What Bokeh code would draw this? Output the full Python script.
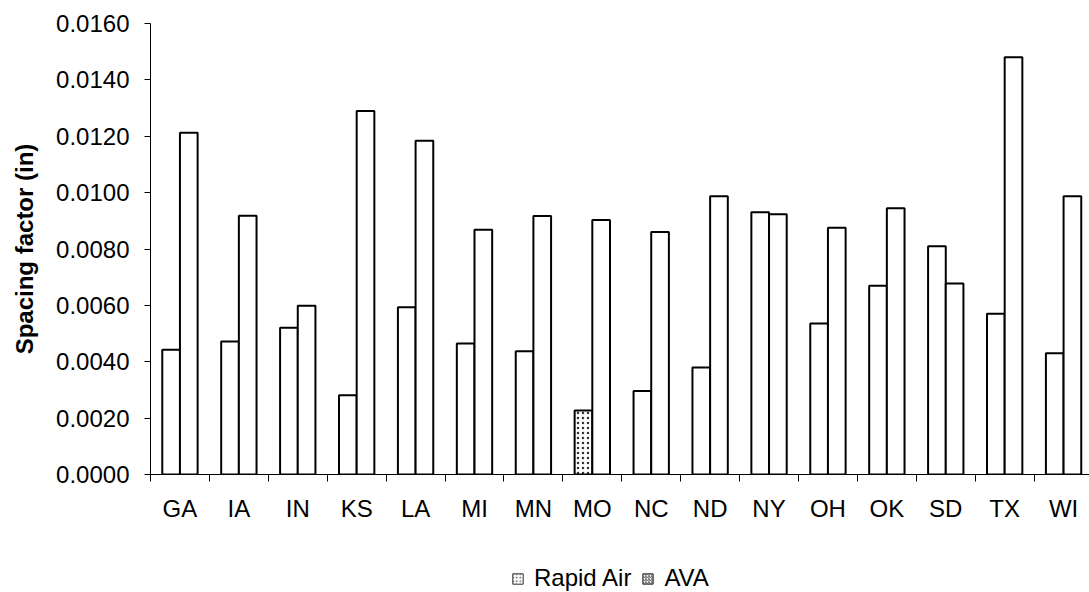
from bokeh.plotting import figure
from bokeh.layouts import column
from bokeh.models import (ColumnDataSource, Range1d, FixedTicker, LinearAxis,
                          NumeralTickFormatter, Legend, LegendItem)
from bokeh.embed import file_html
from bokeh.resources import INLINE
import numpy as np

# Spacing factor per state, two test methods
states = ["GA", "IA", "IN", "KS", "LA", "MI", "MN", "MO",
          "NC", "ND", "NY", "OH", "OK", "SD", "TX", "WI"]
rapid_air = [0.00443, 0.00472, 0.00521, 0.00281, 0.00593, 0.00465, 0.00437, 0.00227,
             0.00296, 0.00380, 0.00930, 0.00536, 0.00670, 0.00810, 0.00570, 0.00430]
ava = [0.01212, 0.00918, 0.00599, 0.01290, 0.01184, 0.00868, 0.00917, 0.00903,
       0.00860, 0.00987, 0.00923, 0.00875, 0.00945, 0.00678, 0.01480, 0.00987]
y_ticks = [0.0, 0.002, 0.004, 0.006, 0.008, 0.010, 0.012, 0.014, 0.016]

FONT = "Liberation Sans"
BAR_W = 0.3

idx = np.arange(len(states))
centers = idx + 0.5
src = ColumnDataSource(dict(
    state=states,
    x_ra=centers - BAR_W / 2,
    x_ava=centers + BAR_W / 2,
    rapid_air=rapid_air,
    ava=ava,
    # only the MO Rapid Air measurement is shown with the dotted fill
    ra_hatch=["dot" if s == "MO" else " " for s in states],
))

p = figure(width=1089, height=540,
           x_range=Range1d(0, 15.94), y_range=Range1d(0, 0.016),
           x_axis_type=None, y_axis_type=None,
           output_backend="svg", toolbar_location=None,
           min_border_left=150, min_border_right=0,
           min_border_top=23, min_border_bottom=66)
p.outline_line_color = None
p.background_fill_color = "white"
p.border_fill_color = "white"

# y axis
yax = LinearAxis(ticker=FixedTicker(ticks=y_ticks),
                 formatter=NumeralTickFormatter(format="0.0000"),
                 axis_label="Spacing factor (in)")
yax.axis_line_color = "black"
yax.major_tick_line_color = "black"
yax.major_tick_in = 0
yax.major_tick_out = 6
yax.minor_tick_line_color = None
yax.major_label_text_font = FONT
yax.major_label_text_font_size = "24px"
yax.major_label_text_color = "black"
yax.major_label_standoff = 15
yax.axis_label_text_font = FONT
yax.axis_label_text_font_size = "24px"
yax.axis_label_text_font_style = "bold"
yax.axis_label_text_color = "black"
yax.axis_label_standoff = 15
p.add_layout(yax, "left")

# x axis: labels at category centres, tick marks between categories
xax = LinearAxis(ticker=FixedTicker(ticks=list(centers), minor_ticks=list(idx.astype(float))))
xax.major_label_overrides = {float(c): s for c, s in zip(centers, states)}
xax.axis_line_color = "black"
xax.major_tick_line_color = None
xax.major_tick_in = 0
xax.major_tick_out = 7
xax.minor_tick_line_color = "black"
xax.minor_tick_in = 0
xax.minor_tick_out = 7
xax.major_label_text_font = FONT
xax.major_label_text_font_size = "24px"
xax.major_label_text_color = "black"
xax.major_label_standoff = 13
p.add_layout(xax, "below")

p.ygrid.ticker = FixedTicker(ticks=y_ticks)
p.ygrid.grid_line_color = "#808080"
p.ygrid.grid_line_width = 1
p.xgrid.visible = False

p.vbar(x="x_ra", top="rapid_air", width=BAR_W, source=src,
       fill_color="white", line_color="black", line_width=2,
       hatch_pattern="ra_hatch", hatch_color="#333333", hatch_scale=5, hatch_weight=1.2)
p.vbar(x="x_ava", top="ava", width=BAR_W, source=src,
       fill_color="white", line_color="black", line_width=2)

# legend strip under the chart (its frame lines up with the chart frame);
# the swatch glyphs sit outside the visible range
lg = figure(width=1089, height=52, x_range=Range1d(0, 1), y_range=Range1d(0, 1),
            x_axis_type=None, y_axis_type=None,
            output_backend="svg", toolbar_location=None,
            min_border=0)
lg.outline_line_color = None
lg.xgrid.visible = False
lg.ygrid.visible = False
swatch = ColumnDataSource(dict(x=[-10], top=[-10]))
r_leg_ra = lg.vbar(x="x", top="top", width=0.1, source=swatch,
                   fill_color="white", line_color="#333333", line_width=1,
                   hatch_pattern="dot", hatch_color="#555555", hatch_scale=3.5, hatch_weight=1)
r_leg_ava = lg.vbar(x="x", top="top", width=0.1, source=swatch,
                    fill_color="white", line_color="#333333", line_width=1,
                    hatch_pattern="right_diagonal_line", hatch_color="#555555",
                    hatch_scale=3, hatch_weight=1)
legend = Legend(items=[LegendItem(label="Rapid Air", renderers=[r_leg_ra]),
                       LegendItem(label="AVA", renderers=[r_leg_ava])],
                orientation="horizontal", location=(361, 0),
                glyph_width=13, glyph_height=13, label_text_font=FONT,
                label_text_color="black",
                label_text_font_size="24px", label_standoff=10, spacing=10,
                padding=2, margin=0, border_line_color=None,
                background_fill_alpha=0)
lg.add_layout(legend, "center")

open("out.html", "w").write(file_html(column(p, lg, spacing=0), INLINE))
